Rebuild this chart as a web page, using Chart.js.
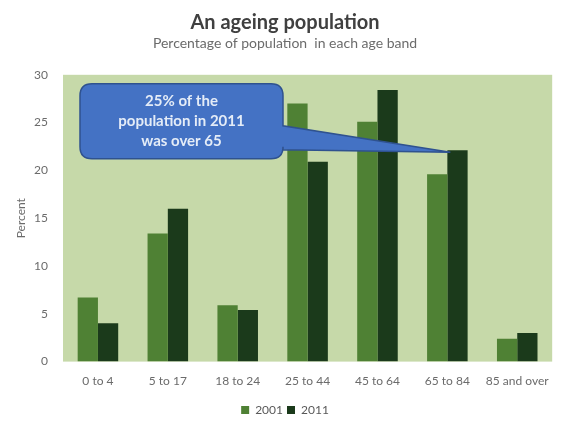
<!DOCTYPE html>
<html lang="en">
<head>
  <meta charset="UTF-8">
  <title>An ageing population</title>
  <script src="https://cdn.jsdelivr.net/npm/chart.js"></script>
  <style>
    body {
      margin: 0;
      background: #fff;
    }
    #wrap {
      width: 561px;
      height: 421px;
    }
  </style>
</head>
<body>
  <div id="wrap"><canvas id="chart" width="561" height="421"></canvas></div>

  <script>
    // data
    const ageBands = ['0 to 4', '5 to 17', '18 to 24', '25 to 44', '45 to 64', '65 to 84', '85 and over'];
    const pct2001 = [6.7, 13.4, 5.9, 27.0, 25.1, 19.6, 2.4];
    const pct2011 = [4.0, 16.0, 5.4, 20.9, 28.4, 22.1, 3.0];
    const yTicks = [0, 5, 10, 15, 20, 25, 30];
    const calloutLines = ['25% of the', 'population in 2011', 'was over 65'];

    const font = 'Lato, "Open Sans", sans-serif';

    // light green plot background
    const plotBg = {
      id: 'plotBg',
      beforeDraw(chart) {
        const { ctx, chartArea: a } = chart;
        ctx.save();
        ctx.fillStyle = '#c6d9a9';
        ctx.fillRect(a.left, a.top, a.right - a.left, a.bottom - a.top);
        ctx.restore();
      }
    };

    // the blue speech bubble pointing at 65 to 84 / 2011
    const callout = {
      id: 'callout',
      afterDatasetsDraw(chart) {
        const { ctx, chartArea: a } = chart;
        const bar = chart.getDatasetMeta(1).data[5];
        const tipX = bar.x - bar.width / 2 + 3;
        const tipY = bar.y + 2;

        const bx = a.left + 17, by = a.top + 9, bw = 203, bh = 75, r = 12;

        ctx.save();
        ctx.fillStyle = '#4472c4';
        ctx.strokeStyle = '#2f528f';
        ctx.lineWidth = 1.5;

        ctx.beginPath();
        ctx.moveTo(bx + r, by);
        ctx.lineTo(bx + bw - r, by);
        ctx.quadraticCurveTo(bx + bw, by, bx + bw, by + r);
        ctx.lineTo(bx + bw, by + 42);
        ctx.lineTo(tipX, tipY);
        ctx.lineTo(bx + bw, by + 66);
        ctx.lineTo(bx + bw, by + bh - r);
        ctx.quadraticCurveTo(bx + bw, by + bh, bx + bw - r, by + bh);
        ctx.lineTo(bx + r, by + bh);
        ctx.quadraticCurveTo(bx, by + bh, bx, by + bh - r);
        ctx.lineTo(bx, by + r);
        ctx.quadraticCurveTo(bx, by, bx + r, by);
        ctx.closePath();
        ctx.fill();
        ctx.stroke();

        ctx.fillStyle = '#e4ecf7';
        ctx.font = 'bold 15px ' + font;
        ctx.textAlign = 'center';
        ctx.textBaseline = 'middle';
        calloutLines.forEach((t, i) => {
          ctx.fillText(t, bx + bw / 2, by + 17 + i * 20);
        });
        ctx.restore();
      }
    };

    new Chart(document.getElementById('chart'), {
      type: 'bar',
      data: {
        labels: ageBands,
        datasets: [
          {
            label: '2001',
            data: pct2001,
            backgroundColor: '#4f8134'
          },
          {
            label: '2011',
            data: pct2011,
            backgroundColor: '#1b3a1b'
          }
        ]
      },
      options: {
        responsive: false,
        animation: false,
        layout: { padding: { top: 11, right: 5, left: 14, bottom: -5 } },
        datasets: {
          bar: { barPercentage: 1.0, categoryPercentage: 0.58 }
        },
        plugins: {
          title: {
            display: true,
            text: 'An ageing population',
            color: '#404040',
            font: { family: font, size: 20, weight: 'bold' },
            padding: { top: 0, bottom: 0 }
          },
          subtitle: {
            display: true,
            text: 'Percentage of population  in each age band',
            color: '#6b6b6b',
            font: { family: font, size: 14 },
            padding: { top: 0, bottom: 23 }
          },
          legend: {
            position: 'bottom',
            labels: {
              color: '#595959',
              font: { family: font, size: 12 },
              boxWidth: 8,
              boxHeight: 8,
              padding: 4
            }
          },
          tooltip: { enabled: false }
        },
        scales: {
          x: {
            grid: { display: false, drawTicks: false },
            border: { display: false },
            ticks: {
              color: '#6b6b6b',
              font: { family: font, size: 12 },
              padding: 12,
              maxRotation: 0,
              autoSkip: false
            }
          },
          y: {
            min: 0,
            max: 30,
            afterBuildTicks(axis) {
              axis.ticks = yTicks.map(v => ({ value: v }));
            },
            afterFit(axis) {
              axis.width = 49;
            },
            grid: { display: false, drawTicks: false },
            border: { display: false },
            ticks: {
              color: '#6b6b6b',
              font: { family: font, size: 12 },
              padding: 15
            },
            title: {
              display: true,
              text: 'Percent',
              color: '#6b6b6b',
              font: { family: font, size: 12 },
              padding: { top: 0, bottom: 4 }
            }
          }
        }
      },
      plugins: [plotBg, callout]
    });
  </script>
</body>
</html>
